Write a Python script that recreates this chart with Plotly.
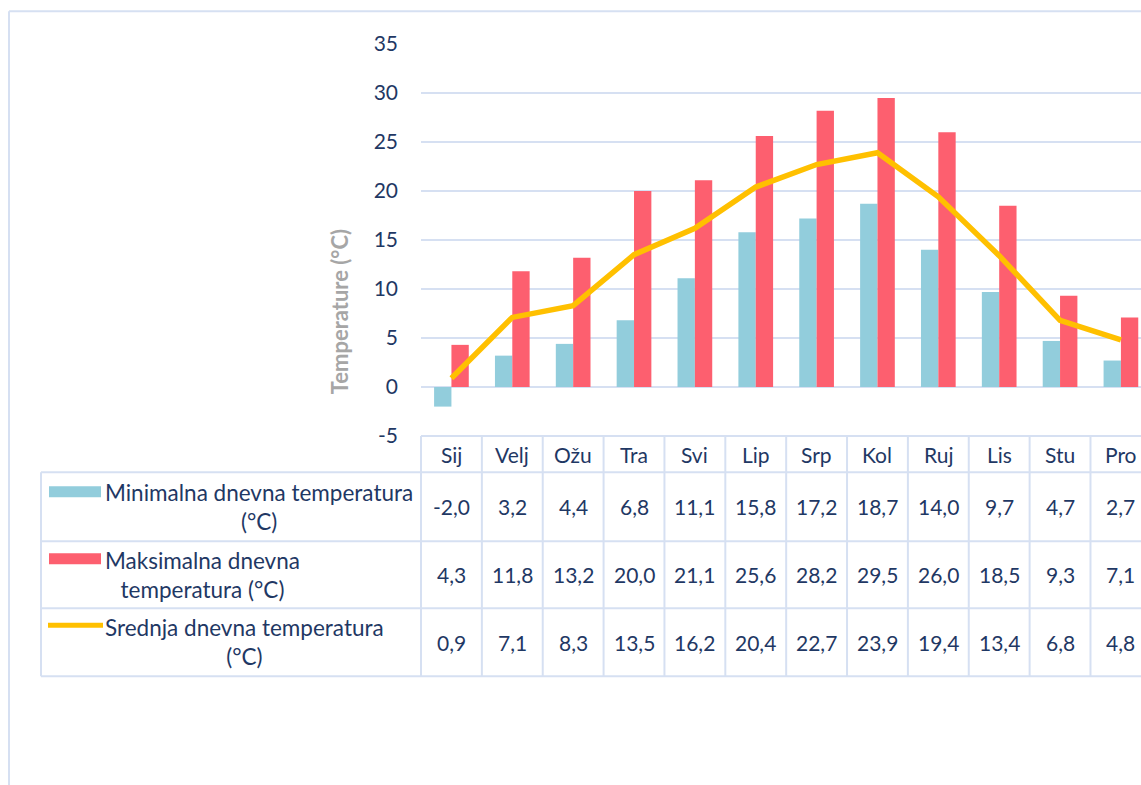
import plotly.graph_objects as go

months = ["Sij", "Velj", "Ožu", "Tra", "Svi", "Lip", "Srp", "Kol", "Ruj", "Lis", "Stu", "Pro"]
t_min = [-2.0, 3.2, 4.4, 6.8, 11.1, 15.8, 17.2, 18.7, 14.0, 9.7, 4.7, 2.7]
t_max = [4.3, 11.8, 13.2, 20.0, 21.1, 25.6, 28.2, 29.5, 26.0, 18.5, 9.3, 7.1]
t_mean = [0.9, 7.1, 8.3, 13.5, 16.2, 20.4, 22.7, 23.9, 19.4, 13.4, 6.8, 4.8]
series_names = ["Minimalna dnevna temperatura<br>(°C)",
                "Maksimalna dnevna<br>temperatura (°C)",
                "Srednja dnevna temperatura<br>(°C)"]
y_ticks = [-5, 0, 5, 10, 15, 20, 25, 30, 35]

C_MIN = "#92CDDC"
C_MAX = "#FD5F6F"
C_MEAN = "#FFC000"
C_TXT = "#1F3864"
C_GRID = "#D6E0F2"
FONT = "Lato"
FS = 21

W, H = 1141, 785
L, T = 421, 43.7
PW, PH = 720, 392
B = H - T - PH
XR = [-0.5, 11.33]


def px(x):
    return (x - L) / PW


def py(y):
    return (T + PH - y) / PH


def xc(k):
    return (k - XR[0]) / (XR[1] - XR[0])


idx = list(range(len(months)))
fig = go.Figure()
fig.add_trace(go.Bar(x=idx, y=t_min, marker_color=C_MIN, marker_line_width=0, name="min"))
fig.add_trace(go.Bar(x=idx, y=t_max, marker_color=C_MAX, marker_line_width=0, name="max"))
fig.add_trace(go.Scatter(x=idx, y=t_mean, mode="lines",
                         line=dict(color=C_MEAN, width=5.5), name="mean"))

shapes = []
ann = []
line = dict(color=C_GRID, width=2)

# outer chart border
shapes.append(dict(type="line", xref="paper", yref="paper", x0=px(9), x1=px(1200), y0=py(11), y1=py(11), line=line))
shapes.append(dict(type="line", xref="paper", yref="paper", x0=px(9), x1=px(9), y0=py(11), y1=py(800), line=line))

# table rows (pixel y of horizontal rules)
y_head_top, y_rows = 435.7, [472, 541, 608, 676]
shapes.append(dict(type="line", xref="paper", yref="paper", x0=px(L), x1=px(1200),
                   y0=py(y_head_top), y1=py(y_head_top), line=line))
for yy in y_rows:
    shapes.append(dict(type="line", xref="paper", yref="paper", x0=px(41), x1=px(1200),
                       y0=py(yy), y1=py(yy), line=line))
shapes.append(dict(type="line", xref="paper", yref="paper", x0=px(41), x1=px(41),
                   y0=py(y_rows[0]), y1=py(y_rows[-1]), line=line))
for k in range(len(months) + 1):
    shapes.append(dict(type="line", xref="paper", yref="paper", x0=xc(k - 0.5), x1=xc(k - 0.5),
                       y0=py(y_head_top), y1=py(y_rows[-1]), line=line))

# header labels
for k, m in enumerate(months):
    ann.append(dict(x=xc(k), y=py(454), xref="paper", yref="paper", text=m, showarrow=False,
                    font=dict(family=FONT, size=FS, color=C_TXT), xanchor="center", yanchor="middle"))

row_vals = [t_min, t_max, t_mean]
row_mid = [(y_rows[i] + y_rows[i + 1]) / 2 for i in range(3)]
for r, vals in enumerate(row_vals):
    for k, v in enumerate(vals):
        ann.append(dict(x=xc(k), y=py(row_mid[r]), xref="paper", yref="paper",
                        text=f"{v:.1f}".replace(".", ","), showarrow=False,
                        font=dict(family=FONT, size=FS, color=C_TXT), xanchor="center", yanchor="middle"))
    ann.append(dict(x=px(103), y=py(row_mid[r]), xref="paper", yref="paper",
                    text=series_names[r], showarrow=False, align="center",
                    font=dict(family=FONT, size=22.5, color=C_TXT), xanchor="left", yanchor="middle"))

# legend keys
key_y = [491.5, 558.5, 625]
shapes.append(dict(type="rect", xref="paper", yref="paper", x0=px(49), x1=px(101),
                   y0=py(key_y[0] - 5.5), y1=py(key_y[0] + 5.5), fillcolor=C_MIN, line_width=0))
shapes.append(dict(type="rect", xref="paper", yref="paper", x0=px(49), x1=px(101),
                   y0=py(key_y[1] - 5.5), y1=py(key_y[1] + 5.5), fillcolor=C_MAX, line_width=0))
shapes.append(dict(type="line", xref="paper", yref="paper", x0=px(48), x1=px(103),
                   y0=py(key_y[2]), y1=py(key_y[2]), line=dict(color=C_MEAN, width=5)))

# axis title
ann.append(dict(x=px(339), y=py(312), xref="paper", yref="paper", text="<b>Temperature (°C)</b>",
                textangle=-90, showarrow=False, font=dict(family=FONT, size=22, color="#A6A6A6"),
                xanchor="center", yanchor="middle"))

fig.update_layout(
    width=W, height=H,
    margin=dict(l=L, r=W - L - PW, t=T, b=B, pad=0),
    paper_bgcolor="white", plot_bgcolor="white",
    barmode="group", bargap=0.43, bargroupgap=0,
    showlegend=False,
    shapes=shapes, annotations=ann,
    xaxis=dict(range=XR, showticklabels=False, showgrid=False, zeroline=False, showline=False, ticks=""),
    yaxis=dict(range=[-5, 35], tickvals=y_ticks, ticktext=[str(v) for v in y_ticks],
               showgrid=True, gridcolor=C_GRID, gridwidth=2, zeroline=False, showline=False,
               ticks="", ticklabelstandoff=22,
               tickfont=dict(family=FONT, size=FS, color=C_TXT)),
)

fig.write_html("out.html", config={"displayModeBar": False},
               post_script="document.body.style.margin='0';document.body.style.overflow='hidden';")
